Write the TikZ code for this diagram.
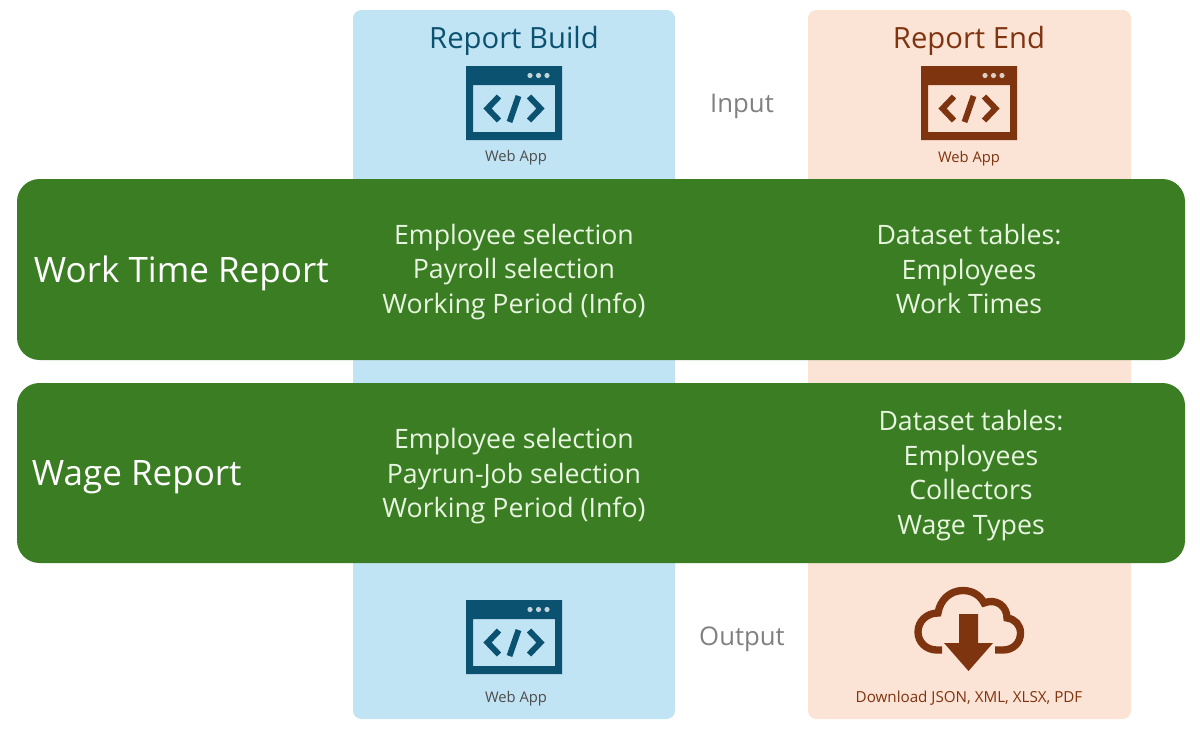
\documentclass[tikz,border=0pt]{standalone}
\usepackage{fontspec}
\setmainfont{Open Sans}
\usepackage{tikz}
\usetikzlibrary{positioning}
\definecolor{buildblue}{HTML}{C1E4F5}
\definecolor{endpeach}{HTML}{FBE3D6}
\definecolor{reportgreen}{HTML}{3B7D23}
\definecolor{buildink}{HTML}{0B5270}
\definecolor{endink}{HTML}{7F3410}
\definecolor{greentext}{HTML}{E8F5E0}
\tikzset{
	panel/.style={rounded corners=6pt},
	band/.style={fill=reportgreen,rounded corners=16pt},
	headtext/.style={font=\fontsize{20.8}{24}\selectfont,anchor=center},
	sidetext/.style={font=\fontsize{18.3}{22}\selectfont,text=black!50,anchor=center},
	smalltext/.style={font=\fontsize{10.5}{12}\selectfont,anchor=center},
	titletext/.style={font=\fontsize{24.9}{30}\selectfont,text=white,anchor=west},
	listtext/.style={font=\fontsize{19}{24.55}\selectfont,text=greentext,align=center,anchor=center},
	pics/webapp/.style={code={
		\fill[#1,even odd rule] (-48,-37) rectangle (48,37) (-41,-18) rectangle (41,29);
		\foreach \x in {16,24.5,33}{
			\fill[white!75!#1] (\x,-27.5) circle (2.6);
		}
		\draw[#1,line width=4.2pt] (-15,-6.5) -- (-26.5,5.5) -- (-15,17.5);
		\draw[#1,line width=4.2pt] (15,-6.5) -- (26.5,5.5) -- (15,17.5);
		\draw[#1,line width=4.2pt] (4.5,-7) -- (-4.5,19);
	}},
}
\begin{document}
\begin{tikzpicture}[x=0.025cm,y=-0.025cm]
	\useasboundingbox (0,0) rectangle (1200,731);
	% columns
	\fill[panel,buildblue] (353,10) rectangle (675,719);
	\fill[panel,endpeach] (808,10) rectangle (1131,719);
	% report bands
	\fill[band] (17,179) rectangle (1185,360);
	\fill[band] (17,383) rectangle (1185,563);
	% column heads
	\node[headtext,text=buildink] (buildhead) at (514,41) {Report Build};
	\node[headtext,text=endink] (endhead) at (969,41) {Report End};
	\pic at (514,103) {webapp=buildink};
	\pic at (969,103) {webapp=endink};
	\node[smalltext,text=black!70] (buildinapp) at (516,158) {Web App};
	\node[smalltext,text=endink] (endinapp) at (969,159) {Web App};
	\node[sidetext] (inputlabel) at (742,106) {Input};
	% work time report
	\node[titletext] (worktitle) at (29,273.5) {Work Time Report};
	\node[listtext] (worklist) at (514,272) {Employee selection\\Payroll selection\\Working Period (Info)};
	\node[listtext] (workdata) at (969,269) {Dataset tables:\\Employees\\Work Times};
	% wage report
	\node[titletext] (wagetitle) at (27,477) {Wage Report};
	\node[listtext] (wagelist) at (514,476.5) {Employee selection\\Payrun-Job selection\\Working Period (Info)};
	\node[listtext] (wagedata) at (971,475.5) {Dataset tables:\\Employees\\Collectors\\Wage Types};
	% output row
	\pic at (514,637) {webapp=buildink};
	\node[smalltext,text=black!70] (buildoutapp) at (516,699) {Web App};
	\node[sidetext] (outputlabel) at (742,639) {Output};
	\draw[endink,line width=5.2pt] (942,650) -- (937,650) .. controls (926,650) and (918,642) .. (918,632)
		.. controls (918,621) and (927,613) .. (938,613)
		.. controls (940,600) and (950,590.5) .. (963,590.5)
		.. controls (972,590.5) and (980,595) .. (984,603)
		.. controls (996,598) and (1007,606) .. (1007,618)
		.. controls (1015,619) and (1020.5,625) .. (1020.5,633)
		.. controls (1020.5,643) and (1013,650) .. (1003,650) -- (995,650);
	\fill[endink] (959,614) -- (978,614) -- (978,643) -- (993,643) -- (968.5,671) -- (944,643) -- (959,643) -- cycle;
	\node[smalltext,font=\fontsize{10.8}{12}\selectfont,text=endink] (downloadlabel) at (969,698) {Download JSON, XML, XLSX, PDF};
\end{tikzpicture}
\end{document}
